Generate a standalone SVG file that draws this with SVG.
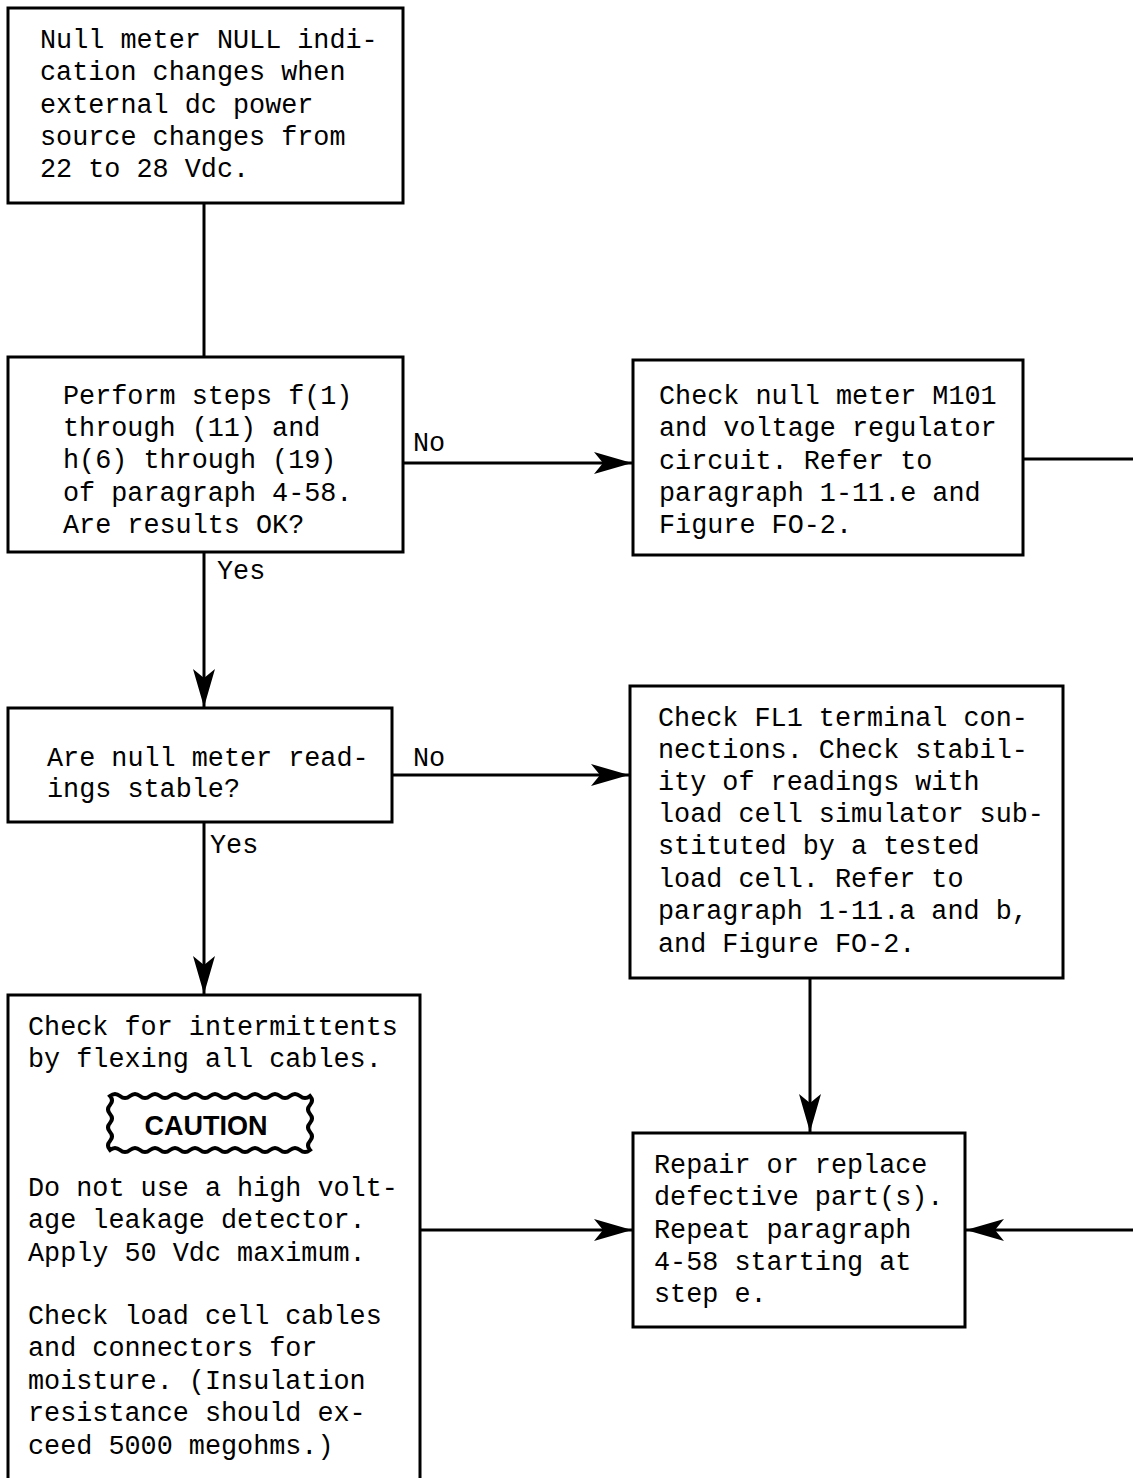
<svg xmlns="http://www.w3.org/2000/svg" width="1133" height="1478" viewBox="0 0 1133 1478">
<style>
.box{fill:#fff;stroke:#000;stroke-width:3}
.ln{fill:none;stroke:#000;stroke-width:3}
.t{font-family:"Liberation Mono","DejaVu Sans Mono",monospace;font-size:26.8px;fill:#000}
.c{font-family:"Liberation Sans",Arial,sans-serif;font-weight:bold;font-size:27px;fill:#000}
</style>
<defs>
<marker id="ah" markerUnits="userSpaceOnUse" markerWidth="44" markerHeight="28" viewBox="-40 -14 44 28" refX="0" refY="0" orient="auto">
<path d="M0,0 L-38,-11 L-29,0 L-38,11 Z" fill="#000"/>
</marker>
</defs>
<rect width="1133" height="1478" fill="#fff"/>
<g id="connectors">
<line class="ln" x1="204" y1="203" x2="204" y2="357"/>
<line class="ln" x1="403" y1="463" x2="632" y2="463" marker-end="url(#ah)"/>
<polyline class="ln" points="1023,459 1140,459"/>
<line class="ln" x1="204" y1="552" x2="204" y2="707" marker-end="url(#ah)"/>
<line class="ln" x1="392" y1="775" x2="629" y2="775" marker-end="url(#ah)"/>
<line class="ln" x1="204" y1="822" x2="204" y2="994" marker-end="url(#ah)"/>
<line class="ln" x1="810" y1="978" x2="810" y2="1132" marker-end="url(#ah)"/>
<line class="ln" x1="420" y1="1230" x2="632" y2="1230" marker-end="url(#ah)"/>
<line class="ln" x1="1140" y1="1230" x2="966" y2="1230" marker-end="url(#ah)"/>
<text class="t" x="413" y="451">No</text>
<text class="t" x="217" y="579">Yes</text>
<text class="t" x="413" y="766">No</text>
<text class="t" x="210" y="853">Yes</text>
</g>
<g id="n1">
<rect class="box" x="8" y="8" width="395" height="195"/>
<text class="t" x="40" y="48">Null meter NULL indi-</text>
<text class="t" x="40" y="80">cation changes when</text>
<text class="t" x="40" y="113">external dc power</text>
<text class="t" x="40" y="145">source changes from</text>
<text class="t" x="40" y="177">22 to 28 Vdc.</text>
</g>
<g id="n2">
<rect class="box" x="8" y="357" width="395" height="195"/>
<text class="t" x="63" y="404">Perform steps f(1)</text>
<text class="t" x="63" y="436">through (11) and</text>
<text class="t" x="63" y="468">h(6) through (19)</text>
<text class="t" x="63" y="501">of paragraph 4-58.</text>
<text class="t" x="63" y="533">Are results OK?</text>
</g>
<g id="n3">
<rect class="box" x="633" y="360" width="390" height="195"/>
<text class="t" x="659" y="404">Check null meter M101</text>
<text class="t" x="659" y="436">and voltage regulator</text>
<text class="t" x="659" y="469">circuit.  Refer to</text>
<text class="t" x="659" y="501">paragraph 1-11.e and</text>
<text class="t" x="659" y="533">Figure FO-2.</text>
</g>
<g id="n4">
<rect class="box" x="8" y="708" width="384" height="114"/>
<text class="t" x="47" y="766">Are null meter read-</text>
<text class="t" x="47" y="797">ings stable?</text>
</g>
<g id="n5">
<rect class="box" x="630" y="686" width="433" height="292"/>
<text class="t" x="658" y="726">Check FL1 terminal con-</text>
<text class="t" x="658" y="758">nections.  Check stabil-</text>
<text class="t" x="658" y="790">ity of readings with</text>
<text class="t" x="658" y="822">load cell simulator sub-</text>
<text class="t" x="658" y="854">stituted by a tested</text>
<text class="t" x="658" y="887">load cell.  Refer to</text>
<text class="t" x="658" y="919">paragraph 1-11.a and b,</text>
<text class="t" x="658" y="952">and Figure FO-2.</text>
</g>
<g id="n6">
<rect class="box" x="8" y="995" width="412" height="485"/>
<text class="t" x="28" y="1035">Check for intermittents</text>
<text class="t" x="28" y="1067">by flexing all cables.</text>
<path d="M110,1096 q5,-4 10,0 t10,0 t10,0 t10,0 t10,0 t10,0 t10,0 t10,0 t10,0 t10,0 t10,0 t10,0 t10,0 t10,0 t10,0 t10,0 t10,0 t10,0 t10,0 t10,0 q4,4.5 0,9 t0,9 t0,9 t0,9 t0,9 t0,9 q-5,4 -10,0 t-10,0 t-10,0 t-10,0 t-10,0 t-10,0 t-10,0 t-10,0 t-10,0 t-10,0 t-10,0 t-10,0 t-10,0 t-10,0 t-10,0 t-10,0 t-10,0 t-10,0 t-10,0 t-10,0 q-4,-4.5 0,-9 t0,-9 t0,-9 t0,-9 t0,-9 t0,-9 Z" fill="#fff" stroke="#000" stroke-width="4"/>
<text class="c" x="206" y="1135" text-anchor="middle">CAUTION</text>
<text class="t" x="28" y="1196">Do not use a high volt-</text>
<text class="t" x="28" y="1228">age leakage detector.</text>
<text class="t" x="28" y="1261">Apply 50 Vdc maximum.</text>
<text class="t" x="28" y="1324">Check load cell cables</text>
<text class="t" x="28" y="1356">and connectors for</text>
<text class="t" x="28" y="1389">moisture. (Insulation</text>
<text class="t" x="28" y="1421">resistance should ex-</text>
<text class="t" x="28" y="1454">ceed 5000 megohms.)</text>
</g>
<g id="n7">
<rect class="box" x="633" y="1133" width="332" height="194"/>
<text class="t" x="654" y="1173">Repair or replace</text>
<text class="t" x="654" y="1205">defective part(s).</text>
<text class="t" x="654" y="1238">Repeat paragraph</text>
<text class="t" x="654" y="1270">4-58 starting at</text>
<text class="t" x="654" y="1302">step e.</text>
</g>
</svg>
